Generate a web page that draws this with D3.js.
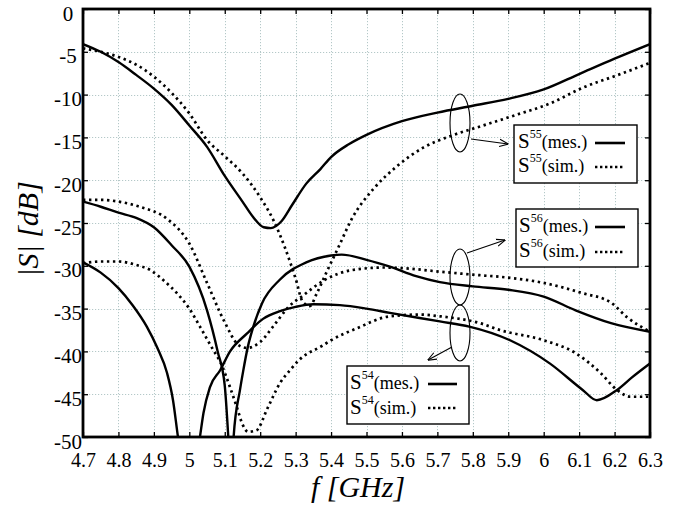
<!DOCTYPE html>
<html><head><meta charset="utf-8">
<script src="https://cdn.jsdelivr.net/npm/d3@7"></script>
<style>
html,body{margin:0;padding:0;background:#fff;}
svg{display:block;}
</style></head>
<body><svg id="c" width="685" height="506"></svg>
<script>
// ---- data ----
const xTicks = [4.7,4.8,4.9,5.0,5.1,5.2,5.3,5.4,5.5,5.6,5.7,5.8,5.9,6.0,6.1,6.2,6.3];
const xTickLabels = ["4.7","4.8","4.9","5","5.1","5.2","5.3","5.4","5.5","5.6","5.7","5.8","5.9","6","6.1","6.2","6.3"];
const yTicks = [0,-5,-10,-15,-20,-25,-30,-35,-40,-45,-50];
const yTickLabels = ["0","-5","-10","-15","-20","-25","-30","-35","-40","-45","-50"];

const s55mesF = [4.70,4.75,4.80,4.85,4.90,4.95,5.00,5.05,5.10,5.15,5.18,5.21,5.23,5.26,5.29,5.33,5.37,5.40,5.45,5.50,5.60,5.70,5.80,5.90,6.00,6.10,6.20,6.30];
const s55mesDB = [-4.1,-5.0,-6.2,-7.7,-9.3,-11.2,-13.6,-16.1,-19.5,-22.5,-24.3,-25.5,-25.6,-24.8,-22.9,-20.4,-18.7,-17.3,-15.8,-14.7,-13.1,-12.1,-11.3,-10.5,-9.4,-7.6,-5.8,-4.1];

const s55simF = [4.70,4.75,4.80,4.85,4.90,4.95,5.00,5.05,5.10,5.15,5.20,5.24,5.27,5.30,5.32,5.34,5.36,5.39,5.42,5.46,5.52,5.585,5.66,5.74,5.83,5.92,6.02,6.11,6.21,6.30];
const s55simDB = [-4.6,-5.0,-5.6,-6.5,-7.9,-9.8,-12.2,-15.3,-17.2,-19.2,-22.0,-24.9,-27.9,-31.5,-34.2,-34.7,-33.2,-30.5,-27.9,-24.4,-21.0,-18.4,-16.2,-14.8,-13.6,-12.4,-11.0,-9.2,-7.7,-6.3];

const s56mesF = [4.70,4.75,4.80,4.85,4.90,4.95,5.00,5.05,5.08,5.10,5.11,5.118,5.125,5.143,5.152,5.165,5.18,5.205,5.256,5.33,5.40,5.43,5.50,5.566,5.64,5.707,5.80,5.90,6.00,6.09,6.19,6.30];
const s56mesDB = [-22.5,-23.1,-23.8,-24.4,-25.5,-27.6,-30.1,-35.2,-40.0,-44.0,-50,-56,-50,-44.5,-42.3,-39.5,-37.2,-34.4,-31.6,-29.6,-28.8,-28.7,-29.3,-30.1,-31.2,-31.9,-32.4,-32.8,-33.6,-35.2,-36.7,-37.7];

const s56simF = [4.70,4.75,4.80,4.86,4.94,5.00,5.05,5.10,5.14,5.163,5.20,5.24,5.28,5.32,5.38,5.46,5.55,5.61,5.71,5.82,5.88,6.00,6.11,6.19,6.235,6.30];
const s56simDB = [-22.3,-22.3,-22.5,-23.1,-24.6,-27.4,-32.0,-36.6,-39.3,-39.6,-38.9,-36.9,-34.8,-33.5,-31.7,-30.5,-30.2,-30.3,-30.7,-31.1,-31.3,-32.0,-33.2,-34.3,-36.0,-37.7];

const s54mesF = [4.70,4.75,4.80,4.84,4.88,4.91,4.937,4.954,4.968,5.00,5.03,5.04,5.058,5.087,5.115,5.163,5.208,5.256,5.30,5.35,5.425,5.50,5.566,5.707,5.79,5.905,6.017,6.11,6.15,6.207,6.25,6.30];
const s54mesDB = [-29.6,-30.8,-32.6,-34.6,-37.1,-39.6,-42.5,-45.7,-50,-58,-50,-47.2,-44.2,-42.2,-40.0,-37.9,-36.2,-35.3,-34.8,-34.5,-34.6,-35.0,-35.5,-36.5,-37.1,-38.7,-41.4,-44.5,-45.7,-44.5,-43.0,-41.4];

const s54simF = [4.70,4.75,4.80,4.85,4.89,4.93,4.965,5.00,5.03,5.067,5.087,5.115,5.134,5.15,5.166,5.19,5.22,5.256,5.284,5.31,5.377,5.40,5.473,5.566,5.65,5.707,5.82,5.876,6.00,6.09,6.16,6.207,6.245,6.30];
const s54simDB = [-29.7,-29.5,-29.5,-29.9,-30.5,-31.8,-33.2,-35.0,-37.1,-39.8,-41.2,-44.2,-46.5,-48.5,-49.4,-49.2,-46.7,-43.7,-42.2,-41.0,-39.3,-38.7,-37.3,-35.9,-35.7,-35.9,-36.7,-37.5,-38.7,-40.2,-42.5,-44.5,-45.3,-45.3];

const series = [
  {name:"s55mes", f:s55mesF, v:s55mesDB, dotted:false},
  {name:"s55sim", f:s55simF, v:s55simDB, dotted:true},
  {name:"s56mes", f:s56mesF, v:s56mesDB, dotted:false},
  {name:"s56sim", f:s56simF, v:s56simDB, dotted:true},
  {name:"s54mes", f:s54mesF, v:s54mesDB, dotted:false},
  {name:"s54sim", f:s54simF, v:s54simDB, dotted:true}
];
const legends = [
  {sup:"55", rows:["(mes.)","(sim.)"]},
  {sup:"56", rows:["(mes.)","(sim.)"]},
  {sup:"54", rows:["(mes.)","(sim.)"]}
];
const xTitle = "f [GHz]";
const yTitle = "|S| [dB]";

// ---- layout ----
const FONT = "Liberation Serif";
const L = 83, T = 9, W = 567, H = 428;
const svg = d3.select("#c").attr("font-family", FONT);
const x = d3.scaleLinear().domain([4.7,6.3]).range([L, L+W]);
const y = d3.scaleLinear().domain([-50,0]).range([T+H, T]);

const defs = svg.append("defs");
defs.append("clipPath").attr("id","clip")
  .append("rect").attr("x",L).attr("y",T).attr("width",W).attr("height",H);
defs.append("marker").attr("id","ah").attr("viewBox","0 0 10 10").attr("refX",9.5).attr("refY",5)
  .attr("markerWidth",9).attr("markerHeight",9).attr("markerUnits","userSpaceOnUse").attr("orient","auto")
  .append("path").attr("d","M0,1 L10,5 L0,9").attr("fill","none").attr("stroke","#000").attr("stroke-width",1.2);

// grid
const grid = svg.append("g").attr("stroke","#b4c8c8").attr("stroke-width",1).attr("stroke-dasharray","1.2,1.8");
grid.selectAll("line.v").data(xTicks.slice(1,-1)).enter().append("line")
  .attr("x1",d=>Math.round(x(d))+0.5).attr("x2",d=>Math.round(x(d))+0.5).attr("y1",T).attr("y2",T+H);
grid.selectAll("line.h").data(yTicks.slice(1,-1)).enter().append("line")
  .attr("y1",d=>Math.round(y(d))+0.5).attr("y2",d=>Math.round(y(d))+0.5).attr("x1",L).attr("x2",L+W);

// curves
const line = d3.line().x(d=>x(d[0])).y(d=>y(d[1])).curve(d3.curveMonotoneX);
const cg = svg.append("g").attr("clip-path","url(#clip)");
series.forEach(s=>{
  const pts = s.f.map((f,i)=>[f,s.v[i]]);
  cg.append("path").attr("d",line(pts)).attr("fill","none").attr("stroke","#000")
    .attr("stroke-width", s.dotted?2.7:2.4)
    .attr("stroke-dasharray", s.dotted?"2.4,3.6":null)
    .attr("stroke-linejoin","round");
});

// axes
const fmtX = d=>xTickLabels[xTicks.findIndex(t=>Math.abs(t-d)<1e-9)];
const fmtY = d=>yTickLabels[yTicks.indexOf(d)];
const axB = svg.append("g").attr("transform",`translate(0,${T+H})`)
  .call(d3.axisBottom(x).tickValues(xTicks).tickFormat(fmtX).tickSize(-5).tickPadding(0));
axB.attr("font-family",FONT).attr("font-size",20);
axB.selectAll("text").attr("y",30).attr("dy",null);
const axL = svg.append("g").attr("transform",`translate(${L},0)`)
  .call(d3.axisLeft(y).tickValues(yTicks).tickFormat(fmtY).tickSize(-5));
axL.attr("font-family",FONT).attr("font-size",21);
axL.selectAll("text").attr("x",-15).attr("dy","11px").attr("text-anchor","middle");
const axT = svg.append("g").attr("transform",`translate(0,${T})`)
  .call(d3.axisTop(x).tickValues(xTicks).tickFormat("").tickSize(-5));
const axR = svg.append("g").attr("transform",`translate(${L+W},0)`)
  .call(d3.axisRight(y).tickValues(yTicks).tickFormat("").tickSize(-5));
axT.selectAll("text").remove();
axR.selectAll("text").remove();
svg.selectAll(".domain").remove();
svg.selectAll(".tick line").attr("stroke","#000").attr("stroke-width",1.3);

// frame
svg.append("rect").attr("x",L).attr("y",T).attr("width",W).attr("height",H)
  .attr("fill","none").attr("stroke","#000").attr("stroke-width",2.8);

// titles
svg.append("text").attr("x",358).attr("y",497).attr("text-anchor","middle")
  .attr("font-family",FONT).attr("font-size",30).attr("font-style","italic").text(xTitle);
svg.append("text").attr("transform","translate(38,229) rotate(-90)").attr("text-anchor","middle")
  .attr("font-family",FONT).attr("font-size",30).attr("font-style","italic").text(yTitle);

// ellipses & arrows
const ann = svg.append("g").attr("fill","none").attr("stroke","#000").attr("stroke-width",1.1);
[[460,123,10,29],[460,277,10,28],[460,333,10,28]].forEach(e=>{
  ann.append("ellipse").attr("cx",e[0]).attr("cy",e[1]).attr("rx",e[2]).attr("ry",e[3]);
});
[[471,139,508,144],[467,253,505,240],[452,347,428,360]].forEach(a=>{
  ann.append("line").attr("x1",a[0]).attr("y1",a[1]).attr("x2",a[2]).attr("y2",a[3]).attr("marker-end","url(#ah)");
});

// legends
const boxes = [
  {x:514,y:125,w:123,h:58, tx:518, b1:148, b2:172, lx1:595, lx2:625, l1:143, l2:167},
  {x:516,y:209,w:122,h:58, tx:519, b1:232, b2:257, lx1:595, lx2:625, l1:227, l2:252},
  {x:347,y:366,w:122,h:58, tx:350, b1:389, b2:414, lx1:428, lx2:457, l1:384, l2:408}
];
legends.forEach((lg,i)=>{
  const b = boxes[i];
  const g = svg.append("g");
  g.append("rect").attr("x",b.x).attr("y",b.y).attr("width",b.w).attr("height",b.h)
    .attr("fill","#fff").attr("stroke","#000").attr("stroke-width",1.4);
  lg.rows.forEach((r,j)=>{
    const t = g.append("text").attr("x",b.tx).attr("y",j?b.b2:b.b1)
      .attr("font-family",FONT).attr("font-size",21);
    t.append("tspan").text("S");
    t.append("tspan").attr("dy",-10).attr("font-size",12).text(lg.sup);
    t.append("tspan").attr("dy",10).attr("font-size",18).text(r);
    g.append("line").attr("x1",b.lx1).attr("x2",b.lx2).attr("y1",j?b.l2:b.l1).attr("y2",j?b.l2:b.l1)
      .attr("stroke","#000").attr("stroke-width",j?2.7:2.6)
      .attr("stroke-dasharray",j?"2.4,2.6":null);
  });
});
svg.selectAll("text").style("font-family", FONT);
</script></body></html>
